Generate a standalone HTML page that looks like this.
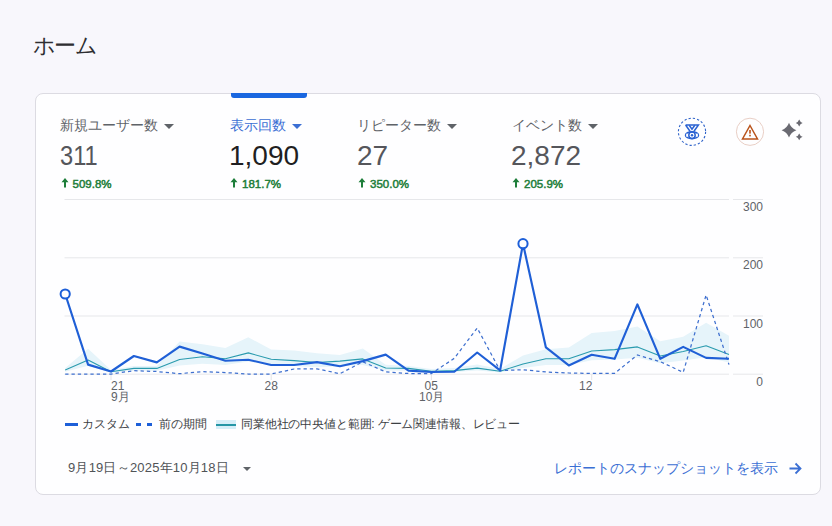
<!DOCTYPE html>
<html lang="ja">
<head>
<meta charset="utf-8">
<style>
html,body{margin:0;padding:0;}
body{width:832px;height:526px;overflow:hidden;background:#f8f7fc;font-family:"Liberation Sans",sans-serif;position:relative;color:#202124;}
.abs{position:absolute;white-space:nowrap;}
.title{left:33px;top:33px;font-size:22px;line-height:26px;color:#2e2e31;letter-spacing:-1.6px;}
.card{position:absolute;left:35px;top:93px;width:784px;height:399.5px;background:#fefeff;border:1px solid #dcdbe2;border-radius:8px;}
.tabbar{position:absolute;left:231px;top:93px;width:76px;height:4.5px;background:#1a67e0;border-radius:0 0 3px 3px;}
.tlabel{font-size:14px;line-height:16px;color:#5f6368;top:117.4px;}
.tlabel.sel{color:#3b6fd4;}
.tri{position:absolute;width:0;height:0;border-left:5px solid transparent;border-right:5px solid transparent;border-top:5px solid #5f6368;}
.tval{font-size:28px;line-height:32px;color:#55565b;top:140px;}
.tval.sel{color:#1f1f22;}
.tchg{font-size:11.5px;line-height:14px;color:#1e7e3a;top:177px;letter-spacing:0px;-webkit-text-stroke:0.5px #1e7e3a;}
.arr{position:absolute;top:178px;}
.chart{position:absolute;left:0;top:0;}
.ylab{font-size:12px;line-height:14px;color:#5f6368;text-align:right;}
.xlab{font-size:12px;line-height:11px;color:#5f6368;}
.leg{font-size:12px;line-height:14px;color:#3c4043;top:417px;}
.date{font-size:13px;line-height:15px;color:#505357;left:68px;top:460px;letter-spacing:0.2px;}
.link{font-size:14px;line-height:16px;color:#3b6fd4;left:554px;top:460px;}
</style>
</head>
<body>
<div class="abs title">ホーム</div>
<div class="card"></div>
<div class="tabbar"></div>

<div class="abs tlabel" style="left:60px;">新規ユーザー数</div>
<div class="tri" style="left:164px;top:124px;"></div>
<div class="abs tval" style="left:60px;transform:scaleX(0.845);transform-origin:0 0;">311</div>
<svg class="arr" style="left:60.7px" width="8" height="10" viewBox="0 0 8 10"><path d="M4 0 L7.5 4.2 L5 4.2 L5 9.6 L3 9.6 L3 4.2 L0.5 4.2 Z" fill="#1e7e3a"/></svg><div class="abs tchg" style="left:72.5px;">509.8%</div>

<div class="abs tlabel sel" style="left:230px;">表示回数</div>
<div class="tri" style="left:292px;top:124px;border-top-color:#3b6fd4;"></div>
<div class="abs tval sel" style="left:229px;">1,090</div>
<svg class="arr" style="left:230.2px" width="8" height="10" viewBox="0 0 8 10"><path d="M4 0 L7.5 4.2 L5 4.2 L5 9.6 L3 9.6 L3 4.2 L0.5 4.2 Z" fill="#1e7e3a"/></svg><div class="abs tchg" style="left:242px;">181.7%</div>

<div class="abs tlabel" style="left:357px;">リピーター数</div>
<div class="tri" style="left:447px;top:124px;"></div>
<div class="abs tval" style="left:357px;">27</div>
<svg class="arr" style="left:358.2px" width="8" height="10" viewBox="0 0 8 10"><path d="M4 0 L7.5 4.2 L5 4.2 L5 9.6 L3 9.6 L3 4.2 L0.5 4.2 Z" fill="#1e7e3a"/></svg><div class="abs tchg" style="left:370px;">350.0%</div>

<div class="abs tlabel" style="left:512px;">イベント数</div>
<div class="tri" style="left:588px;top:124px;"></div>
<div class="abs tval" style="left:511px;">2,872</div>
<svg class="arr" style="left:512.2px" width="8" height="10" viewBox="0 0 8 10"><path d="M4 0 L7.5 4.2 L5 4.2 L5 9.6 L3 9.6 L3 4.2 L0.5 4.2 Z" fill="#1e7e3a"/></svg><div class="abs tchg" style="left:524px;">205.9%</div>

<svg class="chart" width="832" height="526" viewBox="0 0 832 526">
<line x1="64.5" y1="199.5" x2="729" y2="199.5" stroke="#e6e7ea" stroke-width="1"/>
<line x1="733" y1="199.5" x2="763" y2="199.5" stroke="#e6e7ea" stroke-width="1"/>
<line x1="64.5" y1="257.8" x2="729" y2="257.8" stroke="#e6e7ea" stroke-width="1"/>
<line x1="733" y1="257.8" x2="763" y2="257.8" stroke="#e6e7ea" stroke-width="1"/>
<line x1="64.5" y1="316.0" x2="729" y2="316.0" stroke="#e6e7ea" stroke-width="1"/>
<line x1="733" y1="316.0" x2="763" y2="316.0" stroke="#e6e7ea" stroke-width="1"/>
<line x1="64.5" y1="374.2" x2="729" y2="374.2" stroke="#e6e7ea" stroke-width="1"/>
<line x1="733" y1="374.2" x2="763" y2="374.2" stroke="#e6e7ea" stroke-width="1"/>
<line x1="111.0" y1="374.5" x2="111.0" y2="380" stroke="#e3e4e7" stroke-width="1"/>
<line x1="271.2" y1="374.5" x2="271.2" y2="380" stroke="#e3e4e7" stroke-width="1"/>
<line x1="431.4" y1="374.5" x2="431.4" y2="380" stroke="#e3e4e7" stroke-width="1"/>
<line x1="591.7" y1="374.5" x2="591.7" y2="380" stroke="#e3e4e7" stroke-width="1"/>
<polygon points="65.2,368.0 88.1,348.7 111.0,370.0 133.9,366.0 156.8,366.0 179.6,341.6 202.5,344.2 225.4,348.1 248.3,337.3 271.2,349.6 294.1,350.5 317.0,353.2 339.9,354.9 362.8,348.4 385.7,364.7 408.5,366.0 431.4,369.0 454.3,368.0 477.2,364.5 500.1,369.0 523.0,355.4 545.9,349.2 568.8,347.4 591.7,333.0 614.6,331.0 637.4,326.5 660.3,341.2 683.2,336.7 706.1,322.7 729.0,335.8 729.0,362.4 706.1,357.2 683.2,360.6 660.3,363.3 637.4,357.8 614.6,359.4 591.7,360.3 568.8,365.0 545.9,365.0 523.0,368.1 500.1,372.4 477.2,370.5 454.3,372.0 431.4,372.5 408.5,370.7 385.7,370.5 362.8,365.0 339.9,366.3 317.0,367.2 294.1,366.0 271.2,365.2 248.3,361.4 225.4,364.9 202.5,363.8 179.6,365.4 156.8,370.7 133.9,370.7 111.0,372.8 88.1,365.7 65.2,371.7" fill="#e6f4fa"/>
<polyline points="65.2,370.0 88.1,360.0 111.0,371.8 133.9,368.4 156.8,368.4 179.6,359.5 202.5,356.8 225.4,358.7 248.3,352.9 271.2,359.2 294.1,360.6 317.0,362.5 339.9,361.1 362.8,358.9 385.7,368.0 408.5,368.4 431.4,371.3 454.3,370.6 477.2,368.1 500.1,371.2 523.0,364.0 545.9,358.8 568.8,358.8 591.7,351.0 614.6,349.6 637.4,346.9 660.3,356.0 683.2,351.5 706.1,345.8 729.0,354.6" fill="none" stroke="#2a9bae" stroke-width="1.1" stroke-linejoin="round"/>
<polyline points="65.2,374.0 88.1,374.0 111.0,374.0 133.9,370.7 156.8,371.5 179.6,373.7 202.5,371.6 225.4,372.6 248.3,374.0 271.2,374.0 294.1,369.0 317.0,368.8 339.9,373.7 362.8,361.8 385.7,371.9 408.5,373.5 431.4,373.5 454.3,358.3 477.2,328.0 500.1,370.6 523.0,369.7 545.9,372.0 568.8,373.0 591.7,373.4 614.6,373.3 637.4,355.0 660.3,361.7 683.2,372.3 706.1,295.0 729.0,364.6" fill="none" stroke="#3f70cf" stroke-width="1.25" stroke-dasharray="3.3 3"/>
<polyline points="65.2,294.0 88.1,364.6 111.0,371.5 133.9,356.0 156.8,362.4 179.6,346.6 202.5,353.5 225.4,360.7 248.3,359.7 271.2,365.0 294.1,365.0 317.0,362.1 339.9,366.2 362.8,361.1 385.7,354.6 408.5,370.6 431.4,372.0 454.3,371.7 477.2,352.5 500.1,370.4 523.0,243.7 545.9,347.4 568.8,365.4 591.7,354.8 614.6,358.8 637.4,304.4 660.3,358.8 683.2,346.9 706.1,357.9 729.0,358.8" fill="none" stroke="#1f5fd6" stroke-width="2.15" stroke-linejoin="round"/>
<circle cx="65.2" cy="294" r="4.6" fill="#fff" stroke="#1d5fd8" stroke-width="2"/>
<circle cx="523.0" cy="243.7" r="4.6" fill="#fff" stroke="#1d5fd8" stroke-width="2"/>
</svg>

<div class="abs ylab" style="left:733px;width:30px;top:200px;">300</div>
<div class="abs ylab" style="left:733px;width:30px;top:258px;">200</div>
<div class="abs ylab" style="left:733px;width:30px;top:317px;">100</div>
<div class="abs ylab" style="left:733px;width:30px;top:375px;">0</div>

<div class="abs xlab" style="left:111px;top:381px;">21</div>
<div class="abs xlab" style="left:111px;top:392px;">9月</div>
<div class="abs xlab" style="left:264.5px;top:381px;">28</div>
<div class="abs xlab" style="left:424.5px;top:381px;">05</div>
<div class="abs xlab" style="left:419px;top:392px;">10月</div>
<div class="abs xlab" style="left:579px;top:381px;">12</div>

<div class="abs" style="left:64.5px;top:422.5px;width:13px;height:3px;background:#1d5fd8;"></div>
<div class="abs leg" style="left:82px;">カスタム</div>
<div class="abs" style="left:136px;top:422.5px;width:5px;height:3px;background:#1d5fd8;"></div>
<div class="abs" style="left:147px;top:422.5px;width:5px;height:3px;background:#1d5fd8;"></div>
<div class="abs leg" style="left:159px;">前の期間</div>
<div class="abs" style="left:215.5px;top:420px;width:20px;height:9px;background:#d6eef8;"></div>
<div class="abs" style="left:215.5px;top:423.5px;width:20px;height:2px;background:#2596a6;"></div>
<div class="abs leg" style="left:241px;letter-spacing:-0.15px;">同業他社の中央値と範囲: ゲーム関連情報、レビュー</div>

<div class="abs date">9月19日～2025年10月18日</div>
<div class="tri" style="left:243px;top:467px;border-left-width:4px;border-right-width:4px;border-top-width:4px;"></div>
<div class="abs link">レポートのスナップショットを表示</div>

<svg class="abs" style="left:0;top:0;" width="832" height="526" viewBox="0 0 832 526">
<circle cx="692" cy="131.8" r="13.6" fill="none" stroke="#2f63c9" stroke-width="1.1" stroke-dasharray="2.3 2.0"/>
<g fill="none" stroke="#2a62d2" stroke-width="1.5" stroke-linejoin="miter">
<path d="M685.6 125 H698.4 L694 131.2 M685.6 125 L690 131.2"/>
<path d="M689.2 125.2 L692 129.2 L694.8 125.2"/>
<ellipse cx="692" cy="135.2" rx="6.5" ry="3.5"/>
<circle cx="692" cy="135.3" r="3.2"/>
</g>
<circle cx="692" cy="135.3" r="1.2" fill="#2a62d2"/>
<rect x="686.3" y="133.6" width="0.9" height="3.2" fill="#fff"/>
<rect x="696.8" y="133.6" width="0.9" height="3.2" fill="#fff"/>
<circle cx="750" cy="131.8" r="13.6" fill="none" stroke="#e9cfc6" stroke-width="1"/>
<path d="M750 125.5 L757.5 139 L742.5 139 Z" fill="none" stroke="#b9531b" stroke-width="1.5" stroke-linejoin="miter"/>
<rect x="749.2" y="130" width="1.6" height="3.6" fill="#b9531b"/>
<rect x="749.2" y="134.8" width="1.6" height="1.6" fill="#b9531b"/>
<path d="M789 122.79999999999998 Q790.9 128.29999999999998 796.4 130.2 Q790.9 132.1 789 137.6 Q787.1 132.1 781.6 130.2 Q787.1 128.29999999999998 789 122.79999999999998 Z M799.2 119.6 Q800.1 122.1 802.6 123 Q800.1 123.9 799.2 126.4 Q798.3000000000001 123.9 795.8000000000001 123 Q798.3000000000001 122.1 799.2 119.6 Z M799.2 133.4 Q800.1 135.9 802.6 136.8 Q800.1 137.70000000000002 799.2 140.20000000000002 Q798.3000000000001 137.70000000000002 795.8000000000001 136.8 Q798.3000000000001 135.9 799.2 133.4 Z" fill="#6a6a72"/>
<path d="M789.5 468.5 L800.5 468.5 M795.5 463.5 L800.5 468.5 L795.5 473.5" fill="none" stroke="#3b6fd4" stroke-width="1.8"/>
</svg>
</body>
</html>
